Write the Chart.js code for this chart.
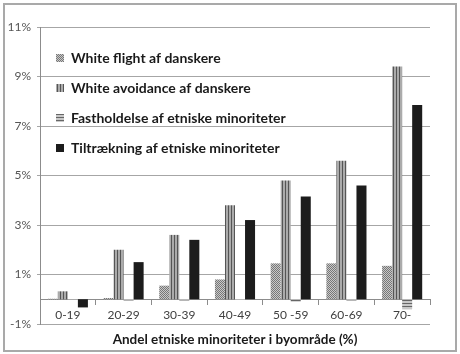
<!DOCTYPE html>
<html>
<head>
<meta charset="utf-8">
<script src="https://cdn.jsdelivr.net/npm/chart.js@4.4.1/dist/chart.umd.min.js"></script>
<style>
  html, body { margin: 0; padding: 0; background: #fff; }
  #wrap { position: relative; width: 460px; height: 354px; }
  #frame { position: absolute; left: 3px; top: 3px; width: 450px; height: 345px; border: 2px solid #a9a9a9; pointer-events: none; }
</style>
</head>
<body>
<div id="wrap">
  <canvas id="myChart" width="460" height="354"></canvas>
  <div id="frame"></div>
</div>
<script>
const categories = ['0-19', '20-29', '30-39', '40-49', '50 -59', '60-69', '70-'];
const whiteFlight = [0.02, 0.05, 0.55, 0.8, 1.45, 1.45, 1.35];
const whiteAvoidance = [0.32, 2.0, 2.6, 3.8, 4.8, 5.6, 9.4];
const fastholdelse = [-0.02, -0.05, -0.05, -0.03, -0.1, -0.05, -0.4];
const tiltraekning = [-0.33, 1.5, 2.4, 3.2, 4.15, 4.6, 7.85];
const seriesNames = [
  'White flight af danskere',
  'White avoidance af danskere',
  'Fastholdelse af etniske minoriteter',
  'Tiltrækning af etniske minoriteter'
];
const yTicks = [-1, 1, 3, 5, 7, 9, 11];

function makePattern(w, h, paint) {
  const c = document.createElement('canvas');
  c.width = w; c.height = h;
  const g = c.getContext('2d');
  paint(g);
  return g.createPattern(c, 'repeat');
}

const stipple = makePattern(2, 2, g => {
  g.fillStyle = '#c8c8c8'; g.fillRect(0, 0, 2, 2);
  g.fillStyle = '#777777'; g.fillRect(0, 0, 1, 1); g.fillRect(1, 1, 1, 1);
});
const vStripes = makePattern(3, 1, g => {
  g.fillStyle = '#ababab'; g.fillRect(0, 0, 3, 1);
  g.fillStyle = '#555555'; g.fillRect(0, 0, 1, 1);
});
const hStripes = makePattern(1, 3, g => {
  g.fillStyle = '#c8c8c8'; g.fillRect(0, 0, 1, 3);
  g.fillStyle = '#666666'; g.fillRect(0, 0, 1, 1);
});

const fills = [stipple, vStripes, hStripes, '#1c1c1c'];
const values = [whiteFlight, whiteAvoidance, fastholdelse, tiltraekning];

const data = {
  labels: categories,
  datasets: values.map((v, i) => ({
    label: seriesNames[i],
    data: v,
    backgroundColor: fills[i],
    borderWidth: 0,
    categoryPercentage: 0.72,
    barPercentage: 1.0
  }))
};

const config = {
  type: 'bar',
  data: data,
  options: {
    responsive: false,
    animation: false,
    devicePixelRatio: 1,
    layout: { padding: { top: 27, right: 30, bottom: 30, left: 0 } },
    plugins: {
      tooltip: { enabled: false },
      legend: {
        position: 'chartArea',
        align: 'start',
        // empty title only pushes the legend rows down into the plot
        title: { display: true, text: ' ', padding: { top: 27, bottom: 0 }, font: { size: 8, lineHeight: 1 } },
        labels: {
          boxWidth: 8,
          boxHeight: 8,
          padding: 16,
          color: '#1a1a1a',
          font: { family: 'Lato', size: 14, weight: 'bold' }
        }
      }
    },
    scales: {
      x: {
        position: { y: 0 },
        grid: { display: true, drawOnChartArea: false, drawTicks: true, tickLength: 5, color: '#8c8c8c' },
        border: { display: true, color: '#8c8c8c' },
        ticks: { color: '#404040', padding: 4, font: { family: 'Lato', size: 12 } },
        title: {
          display: true,
          text: 'Andel etniske minoriteter i byområde (%)',
          color: '#1a1a1a',
          padding: { top: 5, bottom: 0 },
          font: { family: 'Lato', size: 13.5, weight: 'bold' }
        }
      },
      y: {
        min: -1,
        max: 11,
        afterFit: (scale) => { scale.width = 40; },
        afterBuildTicks: (scale) => { scale.ticks = yTicks.map(v => ({ value: v })); },
        grid: { color: '#a6a6a6', tickLength: 3 },
        border: { display: true, color: '#8c8c8c' },
        ticks: {
          color: '#555555',
          padding: 6,
          font: { family: 'Lato', size: 12 },
          callback: (v) => v + '%'
        }
      }
    }
  }
};

const ctx = document.getElementById('myChart');
new Chart(ctx, config);
</script>
</body>
</html>
